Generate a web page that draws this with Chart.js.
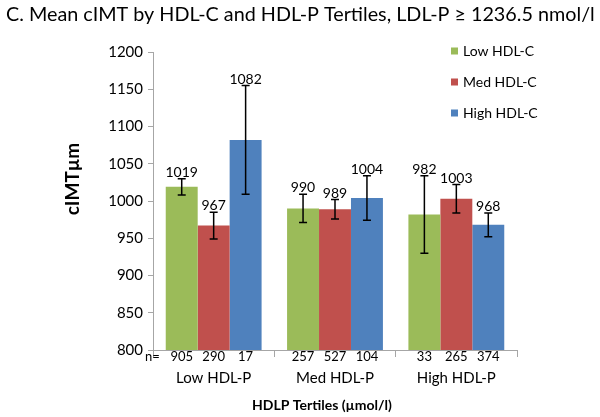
<!DOCTYPE html>
<html><head><meta charset="utf-8">
<script src="https://cdn.jsdelivr.net/npm/chart.js@4/dist/chart.umd.min.js"></script>
<style>html,body{margin:0;padding:0;background:#fff}#wrap{width:600px;height:417px}</style>
</head><body><div id="wrap"><canvas id="c" width="600" height="417"></canvas></div>
<script>
const titleText = 'C. Mean cIMT by HDL-C and HDL-P Tertiles, LDL-P \u2265 1236.5 nmol/l';
const categories = ['Low HDL-P', 'Med HDL-P', 'High HDL-P'];
const seriesLabels = ['Low HDL-C', 'Med HDL-C', 'High HDL-C'];
const lowHdlC = [1019, 990, 982];
const medHdlC = [967, 989, 1003];
const highHdlC = [1082, 1004, 968];
const lowHdlCErr = [11, 19, 52];
const medHdlCErr = [18, 13, 19];
const highHdlCErr = [73, 30, 16];
const lowHdlCN = [905, 257, 33];
const medHdlCN = [290, 527, 265];
const highHdlCN = [17, 104, 374];
const yTicks = [800, 850, 900, 950, 1000, 1050, 1100, 1150, 1200];
const xTitle = 'HDLP Tertiles (\u00b5mol/l)';
const yTitle = 'cIMT\u00b5m';

const colors = ['#9BBB59', '#C0504D', '#4F81BD'];
const FONT = 'Lato, "Open Sans", sans-serif';
const errs = [lowHdlCErr, medHdlCErr, highHdlCErr];
const ns = [lowHdlCN, medHdlCN, highHdlCN];

const extras = {
  id: 'extras',
  afterDatasetsDraw(chart) {
    const ctx = chart.ctx, y = chart.scales.y, area = chart.chartArea;
    ctx.save();
    chart.data.datasets.forEach((ds, di) => {
      const meta = chart.getDatasetMeta(di);
      meta.data.forEach((bar, i) => {
        const v = ds.data[i], e = errs[di][i];
        const yt = y.getPixelForValue(v + e), yb = y.getPixelForValue(v - e);
        ctx.strokeStyle = '#000'; ctx.lineWidth = 1.5;
        ctx.beginPath();
        ctx.moveTo(bar.x, yt); ctx.lineTo(bar.x, yb);
        ctx.moveTo(bar.x - 4, yt); ctx.lineTo(bar.x + 4, yt);
        ctx.moveTo(bar.x - 4, yb); ctx.lineTo(bar.x + 4, yb);
        ctx.stroke();
        ctx.fillStyle = '#000';
        ctx.font = '14px ' + FONT;
        ctx.textAlign = 'center'; ctx.textBaseline = 'alphabetic';
        ctx.fillText(String(v), bar.x, yt - 2);
        ctx.font = '13px ' + FONT;
        ctx.textBaseline = 'middle';
        ctx.fillText(String(ns[di][i]), bar.x, area.bottom + 7);
      });
    });
    ctx.font = '13px ' + FONT; ctx.textAlign = 'left'; ctx.textBaseline = 'middle';
    ctx.fillText('n=', 145, area.bottom + 7);
    // title, fitted to the reference width
    let fs = 20;
    ctx.font = fs + 'px ' + FONT;
    const w = ctx.measureText(titleText).width;
    fs = fs * 589 / w;
    ctx.font = fs.toFixed(2) + 'px ' + FONT; ctx.textAlign = 'left'; ctx.textBaseline = 'middle';
    ctx.fillText(titleText, 6, 15);
    // legend
    chart.data.datasets.forEach((ds, di) => {
      const ly = 51 + di * 31;
      ctx.fillStyle = ds.backgroundColor;
      ctx.fillRect(451, ly - 3.5, 7, 7);
      ctx.fillStyle = '#000';
      ctx.font = '14px ' + FONT; ctx.textAlign = 'left'; ctx.textBaseline = 'middle';
      ctx.fillText(ds.label, 463, ly);
    });
    // axis titles
    ctx.font = 'bold 14px ' + FONT; ctx.textAlign = 'center';
    ctx.fillText(xTitle, 322, 405);
    ctx.save();
    ctx.translate(73, 179); ctx.rotate(-Math.PI / 2);
    ctx.font = 'bold 19px ' + FONT;
    ctx.fillText(yTitle, 0, 0);
    ctx.restore();
    ctx.restore();
  }
};

new Chart(document.getElementById('c'), {
  type: 'bar',
  data: {
    labels: categories,
    datasets: [
      { label: seriesLabels[0], data: lowHdlC, backgroundColor: colors[0] },
      { label: seriesLabels[1], data: medHdlC, backgroundColor: colors[1] },
      { label: seriesLabels[2], data: highHdlC, backgroundColor: colors[2] }
    ]
  },
  options: {
    responsive: false, animation: false,
    layout: { padding: { left: 0, right: 83, top: 52, bottom: 0 } },
    datasets: { bar: { categoryPercentage: 0.79, barPercentage: 1.0 } },
    plugins: { legend: { display: false }, title: { display: false }, tooltip: { enabled: false } },
    scales: {
      x: {
        afterFit(s) { s.height = 67; },
        grid: { offset: true, drawOnChartArea: false, drawTicks: true, tickLength: 7, color: '#a6a6a6' },
        border: { color: '#a6a6a6', width: 1 },
        ticks: { color: '#000', font: { family: FONT, size: 15 }, padding: 12 }
      },
      y: {
        min: 800, max: 1200,
        afterFit(s) { s.width = 153; },
        afterBuildTicks(s) { s.ticks = yTicks.map(v => ({ value: v })); },
        grid: { drawOnChartArea: false, drawTicks: true, tickLength: 5, color: '#a6a6a6' },
        border: { color: '#a6a6a6', width: 1 },
        ticks: { color: '#000', font: { family: FONT, size: 15 }, padding: 5, callback: v => String(v) }
      }
    }
  },
  plugins: [extras]
});
</script></body></html>
